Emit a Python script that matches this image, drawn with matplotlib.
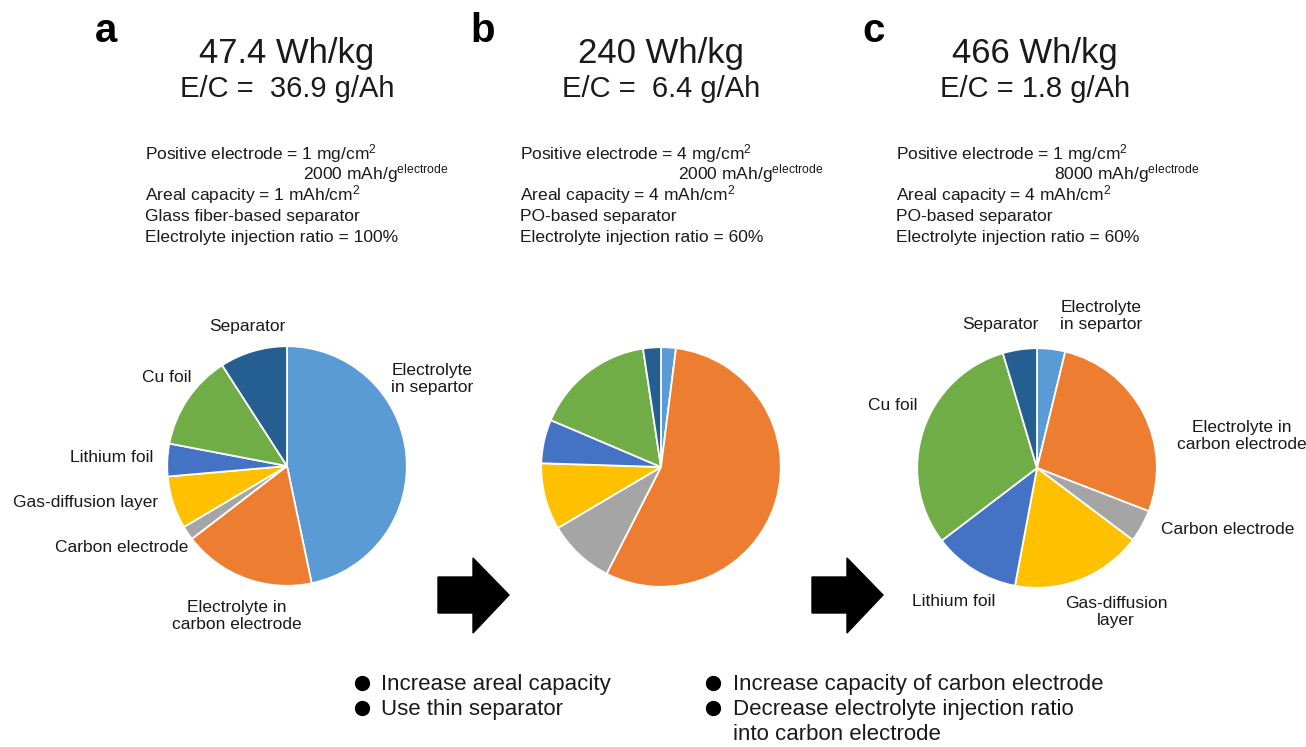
import matplotlib.pyplot as plt
from matplotlib.patches import Polygon

plt.rcParams['font.family'] = ['Liberation Sans', 'DejaVu Sans']
plt.rcParams['mathtext.fontset'] = 'custom'
plt.rcParams['mathtext.rm'] = 'Liberation Sans'
plt.rcParams['mathtext.it'] = 'Liberation Sans:italic'
plt.rcParams['mathtext.bf'] = 'Liberation Sans:bold'

# ---- data ----
components = ["Electrolyte in separator", "Electrolyte in carbon electrode",
              "Carbon electrode", "Gas-diffusion layer", "Lithium foil",
              "Cu foil", "Separator"]
colors = ["#5B9BD5", "#ED7D31", "#A5A5A5", "#FFC000", "#4472C4",
          "#70AD47", "#255E91"]

# weight share (%) of each component
share_a = [46.7, 17.9, 1.9, 7.1, 4.4, 12.9, 9.1]
share_b = [2.0, 55.5, 9.0, 9.0, 5.9, 16.2, 2.4]
share_c = [3.8, 27.1, 4.4, 17.7, 11.7, 30.8, 4.6]

panel_letters = ["a", "b", "c"]
energy = ["47.4 Wh/kg", "240 Wh/kg", "466 Wh/kg"]
ec_ratio = ["E/C =  36.9 g/Ah", "E/C =  6.4 g/Ah", "E/C = 1.8 g/Ah"]
loading = ["1", "4", "1"]
spec_cap = ["2000", "2000", "8000"]
areal = ["1", "4", "4"]
separator_type = ["Glass fiber-based separator", "PO-based separator",
                  "PO-based separator"]
injection = ["100%", "60%", "60%"]

labels_a = ["Electrolyte\nin separtor", "Electrolyte in\ncarbon electrode",
            "Carbon electrode", "Gas-diffusion layer", "Lithium foil",
            "Cu foil", "Separator"]
labels_c = ["Electrolyte\nin separtor", "Electrolyte in\ncarbon electrode",
            "Carbon electrode", "Gas-diffusion\nlayer", "Lithium foil",
            "Cu foil", "Separator"]

steps_1 = ["Increase areal capacity", "Use thin separator"]
steps_2 = ["Increase capacity of carbon electrode",
           "Decrease electrolyte injection ratio", "into carbon electrode"]

# ---- layout (pixels) ----
W, H = 1306, 747
pie_centers = [(287, 466), (661, 467), (1037, 468)]
pie_radius = 121
# label positions: (x, y, ha)
label_pos_a = [(432, 379, 'center'), (237, 616, 'center'), (188, 548, 'right'),
               (158, 502, 'right'), (153, 457, 'right'), (192, 377, 'right'),
               (247, 327, 'center')]
label_pos_c = [(1101, 316, 'center'), (1242, 436, 'center'), (1228, 530, 'center'),
               (1116, 612, 'center'), (954, 601, 'center'), (893, 406, 'center'),
               (1000, 324, 'center')]
text_x = [145, 520, 896]
title_x = [287, 661, 1035]
letter_x = [95, 470, 862]
txt_color = '#1a1a1a'

fig = plt.figure(figsize=(13.06, 7.47), dpi=100)
ax = fig.add_axes([0, 0, 1, 1])
ax.set_xlim(0, W)
ax.set_ylim(H, 0)
ax.axis('off')

# headers and parameter blocks
for i in range(3):
    ax.text(letter_x[i], 42, panel_letters[i], fontsize=29, fontweight='bold',
            color='black', va='baseline')
    ax.text(title_x[i], 63, energy[i], fontsize=25, ha='center', va='baseline',
            color=txt_color)
    ax.text(title_x[i], 97, ec_ratio[i], fontsize=21, ha='center', va='baseline',
            color=txt_color)
    x0 = text_x[i]
    ax.text(x0, 159, f"Positive electrode = {loading[i]} mg/cm$^{{2}}$",
            fontsize=12.5, va='baseline', color=txt_color)
    ax.text(x0 + 158, 179, f"{spec_cap[i]} mAh/g$^{{\\mathrm{{electrode}}}}$",
            fontsize=12.5, va='baseline', color=txt_color)
    ax.text(x0, 200, f"Areal capacity = {areal[i]} mAh/cm$^{{2}}$",
            fontsize=12.5, va='baseline', color=txt_color)
    ax.text(x0, 221, separator_type[i], fontsize=12.5, va='baseline',
            color=txt_color)
    ax.text(x0, 242, f"Electrolyte injection ratio = {injection[i]}",
            fontsize=12.5, va='baseline', color=txt_color)

# pies
for (cx, cy), share in zip(pie_centers, [share_a, share_b, share_c]):
    r = pie_radius
    pax = fig.add_axes([(cx - r) / W, 1 - (cy + r) / H, 2 * r / W, 2 * r / H])
    pax.pie(share, colors=colors, startangle=90, counterclock=False,
            wedgeprops=dict(edgecolor='white', linewidth=1.3))
    pax.set_xlim(-1.01, 1.01)
    pax.set_ylim(-1.01, 1.01)

for labels, pos in [(labels_a, label_pos_a), (labels_c, label_pos_c)]:
    for lab, (x, y, ha) in zip(labels, pos):
        ax.text(x, y, lab, fontsize=12.5, ha=ha, va='center', color=txt_color,
                linespacing=1.15, multialignment='center')

# arrows
arrow_shape = [(0, 19), (35, 19), (35, 0), (71, 37), (35, 75), (35, 55), (0, 55)]
for x0 in [438, 812]:
    pts = [(x0 + dx, 558 + dy) for dx, dy in arrow_shape]
    ax.add_patch(Polygon(pts, closed=True, color='black'))

# bullet lists
for j, s in enumerate(steps_1):
    yb = 690 + 25 * j
    ax.plot(362, yb - 7, 'o', color='black', ms=10)
    ax.text(381, yb, s, fontsize=16, va='baseline', color=txt_color)
for j, s in enumerate(steps_2):
    yb = 690 + 25 * j
    if j < 2:
        ax.plot(713, yb - 7, 'o', color='black', ms=10)
    ax.text(733, yb, s, fontsize=16, va='baseline', color=txt_color)

fig.savefig('out.png', dpi=100)
